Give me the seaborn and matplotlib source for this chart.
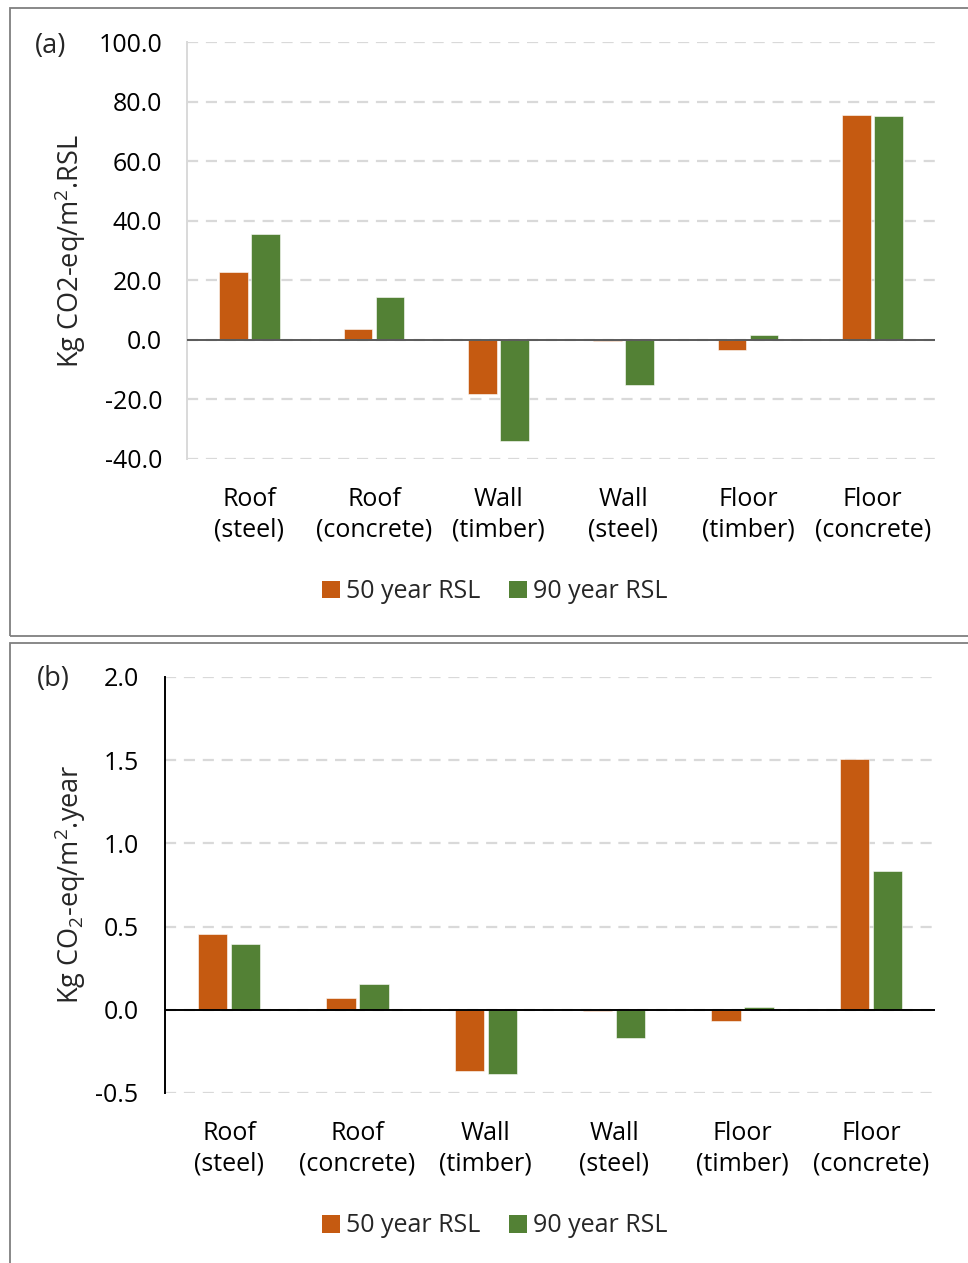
import matplotlib
matplotlib.use("Agg")
import matplotlib.pyplot as plt
from matplotlib.patches import Rectangle, Patch
from matplotlib.ticker import FormatStrFormatter, MultipleLocator
import pandas as pd
import seaborn as sns

# Data
categories = ["Roof\n(steel)", "Roof\n(concrete)", "Wall\n(timber)",
              "Wall\n(steel)", "Floor\n(timber)", "Floor\n(concrete)"]
series_names = ["50 year RSL", "90 year RSL"]
rsl_total_50 = [22.9, 3.7, -18.1, -0.5, -3.4, 75.5]
rsl_total_90 = [35.5, 14.3, -34.1, -15.3, 1.7, 75.3]
per_year_50 = [0.457, 0.070, -0.367, -0.010, -0.070, 1.51]
per_year_90 = [0.395, 0.158, -0.383, -0.172, 0.018, 0.835]

ORANGE = "#C55A11"
GREEN = "#538135"
GRID = "#D9D9D9"

sns.set_theme(style="white")
plt.rcParams["font.family"] = ["Open Sans", "DejaVu Sans"]
plt.rcParams["mathtext.fontset"] = "custom"
plt.rcParams["mathtext.rm"] = "Open Sans"
plt.rcParams["mathtext.it"] = "Open Sans"
plt.rcParams["axes.unicode_minus"] = False

W, H = 968, 1263
fig = plt.figure(figsize=(W / 100, H / 100), dpi=100)


def long_frame(v50, v90):
    return pd.DataFrame({
        "category": categories * 2,
        "value": list(v50) + list(v90),
        "series": [series_names[0]] * len(categories) + [series_names[1]] * len(categories),
    })


def px_box(left, top, right, bottom):
    return [left / W, 1 - bottom / H, (right - left) / W, (bottom - top) / H]


FS = 18

# Panel frames
for top, bottom in [(8, 636), (643, 1275)]:
    fig.patches.append(Rectangle((10 / W, 1 - bottom / H), 1.0, (bottom - top) / H,
                                 transform=fig.transFigure, fill=False,
                                 edgecolor="#7F7F7F", linewidth=1.3, zorder=0))


def draw_panel(box, v50, v90, ylim, step, fmt, zero_color, spine_color, ticks_out):
    ax = fig.add_axes(box)
    sns.barplot(data=long_frame(v50, v90), x="category", y="value", hue="series",
                palette=[ORANGE, GREEN], saturation=1, width=0.515, gap=0.11,
                edgecolor="white", linewidth=0.4, ax=ax, legend=False, zorder=3)
    ax.set_ylim(*ylim)
    ax.set_xlim(-0.5, len(categories) - 0.5)
    ax.yaxis.set_major_locator(MultipleLocator(step))
    ax.yaxis.set_major_formatter(FormatStrFormatter(fmt))
    ax.grid(axis="y", color=GRID, linestyle=(0, (5, 3.5)), linewidth=1.6, zorder=0)
    ax.set_axisbelow(True)
    ax.axhline(0, color=zero_color, linewidth=1.4, zorder=4)
    for s in ["top", "right", "bottom"]:
        ax.spines[s].set_visible(False)
    ax.spines["left"].set_color(spine_color)
    ax.spines["left"].set_linewidth(1.4)
    if ticks_out:
        ax.tick_params(axis="y", length=6, width=1.0, color=spine_color, direction="out", pad=13)
    else:
        ax.tick_params(axis="y", length=7, width=1.6, color=GRID, direction="out", pad=11)
    ax.tick_params(axis="x", length=0, pad=20)
    ax.tick_params(labelsize=FS, labelcolor="#000000")
    ax.set_xlabel("")
    ax.set_ylabel("")
    for lab in ax.get_xticklabels():
        lab.set_linespacing(1.3)
    return ax


ax_a = draw_panel(px_box(187, 42, 935, 459), rsl_total_50, rsl_total_90,
                  (-40, 100), 20, "%.1f", "#595959", GRID, False)
ax_b = draw_panel(px_box(165, 677, 935, 1093), per_year_50, per_year_90,
                  (-0.5, 2.0), 0.5, "%.1f", "#000000", "#000000", True)

fig.text(70 / W, 1 - 251 / H, "Kg CO2-eq/m$^2$.RSL", rotation=90,
         ha="center", va="center", fontsize=19.5)
fig.text(70 / W, 1 - 884 / H, "Kg CO$_2$-eq/m$^2$.year", rotation=90,
         ha="center", va="center", fontsize=19.5)

fig.text(51 / W, 1 - 46 / H, "(a)", ha="center", va="center", fontsize=19.5)
fig.text(53 / W, 1 - 679 / H, "(b)", ha="center", va="center", fontsize=19.5)

handles = [Patch(facecolor=ORANGE, edgecolor="none"), Patch(facecolor=GREEN, edgecolor="none")]
for y in (592, 1226):
    fig.legend(handles, series_names, loc="center", bbox_to_anchor=(495 / W, 1 - y / H),
               ncol=2, frameon=False, fontsize=FS, handlelength=0.7, handleheight=0.7,
               handletextpad=0.25, columnspacing=1.15)

fig.savefig("out.png", dpi=100)
